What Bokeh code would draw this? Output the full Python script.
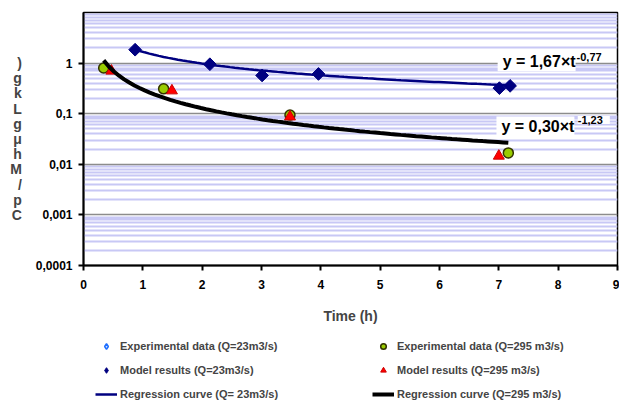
import numpy as np
from bokeh.plotting import figure
from bokeh.layouts import column
from bokeh.models import (Range1d, FixedTicker, CustomJSTickFormatter, Legend,
                          LegendItem, Label)
from bokeh.embed import file_html
from bokeh.resources import INLINE

# ---------------- data ----------------
exp23_t = [0.87, 2.13, 3.01, 3.96, 7.01, 7.19]
exp23_c = [1.84, 0.95, 0.57, 0.61, 0.32, 0.355]
model23_t = [0.87, 2.13, 3.01, 3.96, 7.01, 7.19]
model23_c = [1.84, 0.95, 0.57, 0.61, 0.32, 0.355]
exp295_t = [0.34, 1.35, 3.48, 7.16]
exp295_c = [0.80, 0.31, 0.094, 0.0168]
model295_t = [0.47, 1.49, 3.48, 7.00]
model295_c = [0.70, 0.285, 0.087, 0.0146]

# regression curves y = a * t^b (coefficients as printed on the chart)
reg23_coef = [1.67, -0.77]
reg23_span = [0.87, 7.19]
reg295_coef = [0.30, -1.23]
reg295_span = [0.34, 7.16]

x_ticks = [0, 1, 2, 3, 4, 5, 6, 7, 8, 9]
y_ticks = [0.0001, 0.001, 0.01, 0.1, 1]
y_tick_labels = ["0,0001", "0,001", "0,01", "0,1", "1"]

eq23_text = ["y = 1,67×t", "-0,77"]
eq295_text = ["y = 0,30×t", "-1,23"]
y_label_chars = [")", "g", "k", "L", "g", "μ", "h", "M", "/", "p", "C"]
x_label = "Time (h)"
legend_labels = ["Experimental data (Q=23m3/s)", "Model results (Q=23m3/s)",
                 "Regression curve (Q= 23m3/s)", "Experimental data (Q=295 m3/s)",
                 "Model results (Q=295 m3/s)", "Regression curve (Q=295 m3/s)"]

FONT = "Liberation Sans"

# styles
st_exp23 = dict(marker="square", angle=np.pi / 4, size=4, fill_color="#cce0ff",
                line_color="#1f6fff", line_width=1.2)
st_mod23 = dict(marker="square", angle=np.pi / 4, size=9, fill_color="#000080",
                line_color="#000080")
st_exp295 = dict(marker="circle", size=10, fill_color="#99cc00",
                 line_color="#333300", line_width=1.5)
st_mod295 = dict(marker="triangle", size=11, fill_color="#ff0000",
                 line_color="#cc0000", line_width=1)
st_reg23 = dict(line_color="#000080", line_width=2.5)
st_reg295 = dict(line_color="black", line_width=4)
# legend keys (legend swatches ignore marker angle, so use diamond markers there)
key_exp23 = dict(marker="diamond", size=7, fill_color="#cce0ff",
                 line_color="#1f6fff", line_width=1.5)
key_mod23 = dict(marker="diamond", size=11, fill_color="#000080",
                 line_color="#000080")

p = figure(width=619, height=326, y_axis_type="log",
           x_range=Range1d(0, 9), y_range=Range1d(1e-4, 10),
           output_backend="svg", toolbar_location=None,
           min_border_left=83, min_border_right=2, min_border_top=12,
           min_border_bottom=0)
p.background_fill_color = "white"
p.border_fill_color = "white"
p.outline_line_color = "black"
p.outline_line_width = 1.5

# axes
p.xaxis.ticker = FixedTicker(ticks=x_ticks, minor_ticks=[])
minor = [m * 10.0 ** e for e in range(-4, 1) for m in range(2, 10)]
p.yaxis.ticker = FixedTicker(ticks=y_ticks, minor_ticks=minor)
p.yaxis.formatter = CustomJSTickFormatter(
    args=dict(yt=y_ticks, yl=y_tick_labels),
    code="""
    for (let i = 0; i < yt.length; i++) {
        if (Math.abs(Math.log10(yt[i]) - Math.log10(tick)) < 1e-6) return yl[i];
    }
    return '';
    """)
for ax in (p.xaxis, p.yaxis):
    ax.axis_line_color = "black"
    ax.axis_line_width = 2
    ax.major_tick_line_color = "black"
    ax.major_tick_line_width = 2
    ax.major_tick_out = 5
    ax.major_tick_in = 0
    ax.minor_tick_out = 0
    ax.minor_tick_in = 0
    ax.major_label_text_font = FONT
    ax.major_label_text_font_style = "bold"
    ax.major_label_text_font_size = "12px"
    ax.major_label_text_color = "black"
p.yaxis.major_label_standoff = 6
p.xaxis.major_label_standoff = 9
p.xaxis.axis_label = x_label
p.xaxis.axis_label_text_font = FONT
p.xaxis.axis_label_text_font_style = "bold"
p.xaxis.axis_label_text_font_size = "14px"
p.xaxis.axis_label_standoff = 16

# stacked y-axis label
ya = p.yaxis[0]
ya.axis_label_text_font = FONT
ya.axis_label_text_font_style = "bold"
ya.axis_label_text_font_size = "14px"
if "axis_label_orientation" in ya.properties():
    ya.axis_label = "\n".join(y_label_chars)
    ya.axis_label_orientation = "horizontal"
    ya.axis_label_text_line_height = 0.95
    ya.axis_label_standoff = 11
else:
    ya.axis_label = "".join(reversed(y_label_chars))

# grid
p.xgrid.visible = False
p.ygrid.grid_line_color = "#8c8c8c"
p.ygrid.grid_line_width = 1.5
p.ygrid.minor_grid_line_color = "#c8c8f5"
p.ygrid.minor_grid_line_width = 2

# glyphs
p.scatter(exp23_t, exp23_c, **st_exp23)
p.scatter(model23_t, model23_c, **st_mod23)
p.scatter(exp295_t, exp295_c, **st_exp295)
p.scatter(model295_t, model295_c, **st_mod295)

t23 = np.linspace(reg23_span[0], reg23_span[1], 80)
t295 = np.linspace(reg295_span[0], reg295_span[1], 80)
c23 = reg23_coef[0] * t23 ** reg23_coef[1]
c295 = reg295_coef[0] * t295 ** reg295_coef[1]
p.line(t23, c23, **st_reg23)
p.line(t295, c295, **st_reg295)

# equation labels
has_pad = "padding" in Label.properties()
def eq_label(x, y, txt, size, pad):
    kw = dict(x=x, y=y, text=txt, text_font=FONT, text_font_style="bold",
              text_font_size=size, text_baseline="middle", text_align="left",
              background_fill_color="white", text_color="black")
    if has_pad:
        kw["padding"] = pad
    return Label(**kw)

p.add_layout(eq_label(6.98, 1.06, eq23_text[0], "16px", (5, 0, 1, 1)))
p.add_layout(eq_label(8.31, 1.33, eq23_text[1], "11px", (0, 7, 0, 0)))
p.add_layout(eq_label(6.96, 0.057, eq295_text[0], "16px", (5, 0, 1, 1)))
p.add_layout(eq_label(8.33, 0.075, eq295_text[1], "11px", (0, 7, 0, 0)))

# ---------------- legend strip under the chart ----------------
# the strip's range is far from the data, so its key glyphs draw nothing themselves
lg = figure(width=619, height=75, x_range=Range1d(-20, -10), y_range=Range1d(-20, -10),
            output_backend="svg", toolbar_location=None, min_border=0)
lg.axis.visible = False
lg.grid.visible = False
lg.outline_line_color = None
lg.background_fill_color = "white"
lg.border_fill_color = "white"
keys = [lg.scatter(exp23_t, exp23_c, **key_exp23),
        lg.scatter(model23_t, model23_c, **key_mod23),
        lg.line(t23, c23, **st_reg23),
        lg.scatter(exp295_t, exp295_c, **st_exp295),
        lg.scatter(model295_t, model295_c, **st_mod295),
        lg.line(t295, c295, **st_reg295)]
items = [LegendItem(label=l, renderers=[r]) for l, r in zip(legend_labels, keys)]
legend = Legend(items=items, location=(12, 0), orientation="vertical",
                ncols=2, padding=0, margin=0, spacing=10,
                glyph_width=22, glyph_height=14, label_height=14,
                label_width=242, label_standoff=3,
                label_text_font=FONT, label_text_font_style="bold",
                label_text_font_size="11px", border_line_color=None,
                background_fill_alpha=0)
lg.add_layout(legend, "center")

open("out.html", "w").write(file_html(column(p, lg, spacing=0), INLINE))
